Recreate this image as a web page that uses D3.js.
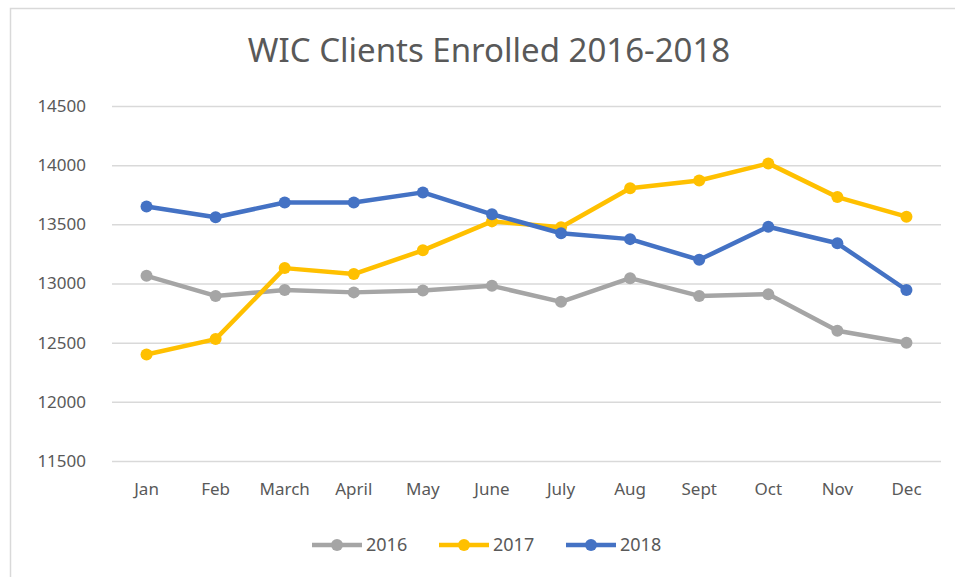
<!DOCTYPE html>
<html>
<head>
<meta charset="utf-8">
<script src="https://cdn.jsdelivr.net/npm/d3@7"></script>
<style>
  body { margin: 0; background: #fff; }
  text { font-family: "Noto Sans", sans-serif; fill: #595959; }
</style>
</head>
<body>
<svg id="chart"></svg>
<script>
const months = ["Jan", "Feb", "March", "April", "May", "June", "July", "Aug", "Sept", "Oct", "Nov", "Dec"];
const yTicks = [11500, 12000, 12500, 13000, 13500, 14000, 14500];
const years = ["2016", "2017", "2018"];
const v2016 = [13065, 12895, 12945, 12925, 12940, 12980, 12845, 13045, 12895, 12910, 12600, 12500];
const v2017 = [12400, 12530, 13130, 13080, 13280, 13525, 13475, 13805, 13870, 14015, 13730, 13565];
const v2018 = [13650, 13560, 13685, 13685, 13770, 13585, 13425, 13375, 13200, 13480, 13340, 12945];
const colors = ["#A5A5A5", "#FFC000", "#4472C4"];

const width = 955, height = 577;
const marginLeft = 112, marginRight = 14, marginTop = 106, marginBottom = 116;

const series = years.map((y, i) => ({ name: y, values: [v2016, v2017, v2018][i], color: colors[i] }));

const svg = d3.select("#chart")
  .attr("width", width)
  .attr("height", height)
  .attr("viewBox", [0, 0, width, height]);

// chart frame (runs off the right and bottom edges)
svg.append("rect")
  .attr("x", 10.5).attr("y", 8.5)
  .attr("width", 1000).attr("height", 600)
  .attr("fill", "none").attr("stroke", "#d9d9d9").attr("stroke-width", 1.5);

const x = d3.scaleBand()
  .domain(months)
  .range([marginLeft, width - marginRight]);

const y = d3.scaleLinear()
  .domain([11500, 14500])
  .range([height - marginBottom, marginTop]);

// title
svg.append("text")
  .attr("x", 489).attr("y", 62)
  .attr("text-anchor", "middle")
  .attr("font-size", 33)
  .text("WIC Clients Enrolled 2016-2018");

// gridlines + y labels
svg.append("g")
  .attr("transform", `translate(${marginLeft},0)`)
  .call(d3.axisLeft(y).tickValues(yTicks).tickSize(-(x.range()[1] - marginLeft)).tickPadding(26).tickFormat(d3.format("d")))
  .call(g => g.select(".domain").remove())
  .call(g => g.selectAll(".tick line").attr("stroke", "#d9d9d9").attr("stroke-width", 1.5))
  .call(g => g.selectAll(".tick text").attr("font-size", 17).attr("fill", "#595959")
    .attr("font-family", "'Noto Sans', sans-serif"));

// x labels
svg.append("g")
  .attr("transform", `translate(0,${height - marginBottom})`)
  .call(d3.axisBottom(x).tickSize(0).tickPadding(22))
  .call(g => g.select(".domain").remove())
  .call(g => g.selectAll(".tick text").attr("font-size", 17).attr("fill", "#595959")
    .attr("font-family", "'Noto Sans', sans-serif"));

const line = d3.line()
  .x((d, i) => x(months[i]) + x.bandwidth() / 2)
  .y(d => y(d));

const g = svg.append("g");
series.forEach(s => {
  g.append("path")
    .attr("d", line(s.values))
    .attr("fill", "none")
    .attr("stroke", s.color)
    .attr("stroke-width", 4.5)
    .attr("stroke-linejoin", "round");
  g.selectAll(null)
    .data(s.values)
    .join("circle")
    .attr("cx", (d, i) => x(months[i]) + x.bandwidth() / 2)
    .attr("cy", d => y(d))
    .attr("r", 6)
    .attr("fill", s.color);
});

// legend
const legend = svg.append("g").attr("transform", "translate(312,545)");
const lx = d3.scalePoint().domain(years).range([0, 254]);
series.forEach(s => {
  const lg = legend.append("g").attr("transform", `translate(${lx(s.name)},0)`);
  lg.append("line").attr("x1", 0).attr("x2", 50).attr("y1", 0).attr("y2", 0)
    .attr("stroke", s.color).attr("stroke-width", 4.5);
  lg.append("circle").attr("cx", 25).attr("cy", 0).attr("r", 6).attr("fill", s.color);
  lg.append("text").attr("x", 54).attr("y", 6).attr("font-size", 18).text(s.name);
});
</script>
</body>
</html>
